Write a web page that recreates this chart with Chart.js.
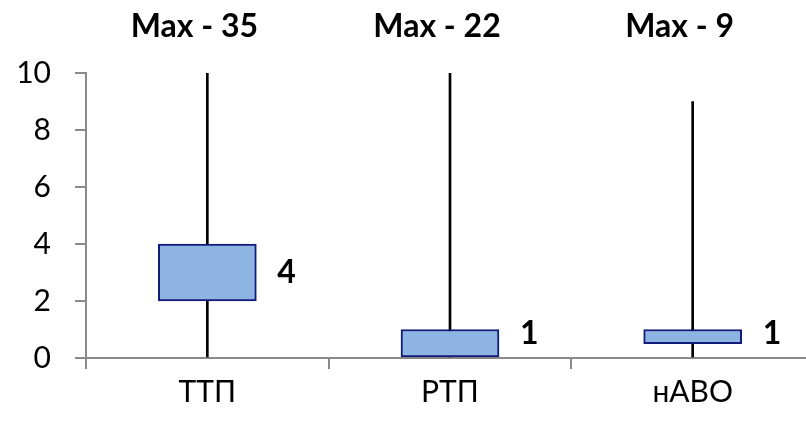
<!DOCTYPE html>
<html>
<head>
<meta charset="utf-8">
<script src="https://cdn.jsdelivr.net/npm/chart.js@4"></script>
<style>
  html, body { margin: 0; padding: 0; background: #ffffff; overflow: hidden; width: 806px; height: 422px; }
  #wrap { width: 814px; height: 422px; }
</style>
</head>
<body>
<div id="wrap"><canvas id="c" width="814" height="422"></canvas></div>
<script>
// Data
const categories = ['ТТП', 'РТП', 'нАВО'];
const minValues  = [0, 0, 0];
const maxValues  = [35, 22, 9];
const q1Values   = [2, 0, 0.5];
const q3Values   = [4, 1, 1];
const boxLabels  = ['4', '1', '1'];
const maxLabels  = maxValues.map(v => 'Max - ' + v);
const yTicks     = [0, 2, 4, 6, 8, 10];

const FONT = 'Lato, "Open Sans", "DejaVu Sans", sans-serif';
const GREY = '#8a8a8a';

const boxLabelPlugin = {
  id: 'boxLabels',
  afterDatasetsDraw(chart) {
    const meta = chart.getDatasetMeta(0);
    const area = chart.chartArea;
    const ctx = chart.ctx;
    ctx.save();
    ctx.font = 'bold 32px ' + FONT;
    ctx.fillStyle = '#000000';
    ctx.textAlign = 'left';
    ctx.textBaseline = 'middle';
    meta.data.forEach((bar, i) => {
      const p = bar.getProps(['x', 'y', 'base', 'width'], true);
      const cy = Math.min((p.y + p.base) / 2, area.bottom - 24);
      ctx.fillText(boxLabels[i], p.x + p.width / 2 + 21, cy);
    });
    ctx.restore();
  }
};

new Chart(document.getElementById('c'), {
  type: 'bar',
  data: {
    labels: categories,
    datasets: [
      {
        label: 'box',
        data: categories.map((_, i) => [q1Values[i], q3Values[i]]),
        backgroundColor: '#8EB4E3',
        borderColor: '#101B7A',
        borderWidth: 2,
        borderSkipped: false,
        barThickness: 98,
        grouped: false,
        order: 0
      },
      {
        label: 'whisker',
        data: categories.map((_, i) => [minValues[i], maxValues[i]]),
        backgroundColor: '#000000',
        borderWidth: 0,
        barThickness: 2,
        grouped: false,
        order: 1
      }
    ]
  },
  options: {
    responsive: false,
    animation: false,
    devicePixelRatio: 1,
    layout: { padding: 0 },
    plugins: {
      legend: { display: false },
      tooltip: { enabled: false },
      title: { display: false }
    },
    scales: {
      x: {
        type: 'category',
        position: 'bottom',
        offset: true,
        grid: {
          offset: true,
          drawOnChartArea: false,
          drawTicks: true,
          tickLength: 11,
          color: GREY,
          lineWidth: 2
        },
        border: { display: true, color: GREY, width: 2 },
        ticks: {
          color: '#000000',
          font: { family: FONT, size: 30 },
          padding: 5,
          maxRotation: 0,
          autoSkip: false
        },
        afterFit(scale) { scale.height = 64; }
      },
      xTop: {
        type: 'category',
        position: 'top',
        labels: maxLabels,
        offset: true,
        grid: { display: false, drawTicks: false },
        border: { display: false },
        ticks: {
          color: '#000000',
          font: { family: FONT, size: 32, weight: 'bold' },
          padding: 27,
          labelOffset: -13,
          maxRotation: 0,
          autoSkip: false
        },
        afterFit(scale) { scale.height = 73; }
      },
      y: {
        type: 'linear',
        min: 0,
        max: 10,
        afterBuildTicks(scale) { scale.ticks = yTicks.map(v => ({ value: v })); },
        grid: {
          drawOnChartArea: false,
          drawTicks: true,
          tickLength: 11,
          color: GREY,
          lineWidth: 2
        },
        border: { display: true, color: GREY, width: 2 },
        ticks: {
          color: '#000000',
          font: { family: FONT, size: 30 },
          padding: 24
        },
        afterFit(scale) { scale.width = 86; }
      }
    }
  },
  plugins: [boxLabelPlugin]
});
</script>
</body>
</html>
